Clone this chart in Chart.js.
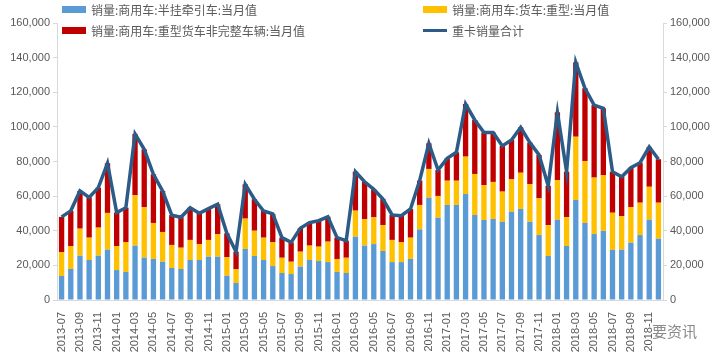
<!DOCTYPE html>
<html>
<head>
<meta charset="utf-8">
<script src="https://cdn.jsdelivr.net/npm/chart.js@4/dist/chart.umd.min.js"></script>
<style>
  html, body { margin: 0; padding: 0; background: #fff; }
  #wrap { position: relative; width: 718px; height: 358px; }
  canvas { position: absolute; left: 0; top: 0; }
  .lg { position: absolute; font: 12px "Noto Sans CJK SC", sans-serif; color: #595959; white-space: nowrap; line-height: 14px; }
  .lg i { display: inline-block; width: 24px; height: 7px; margin-right: 5px; vertical-align: 2px; }
  .lg i.ln { height: 3px; vertical-align: 4px; }
  #wm { position: absolute; left: 652px; top: 320px; font: 15px "Noto Sans CJK SC", sans-serif; color: #8a8a8a; }
</style>
</head>
<body>
<div id="wrap">
  <canvas id="c" width="718" height="358"></canvas>
  <div class="lg" style="left:62px;top:3px"><i style="background:#5b9bd5"></i>销量:商用车:半挂牵引车:当月值</div>
  <div class="lg" style="left:423px;top:3px"><i style="background:#ffc000"></i>销量:商用车:货车:重型:当月值</div>
  <div class="lg" style="left:62px;top:24px"><i style="background:#c00000"></i>销量:商用车:重型货车非完整车辆:当月值</div>
  <div class="lg" style="left:423px;top:24px"><i class="ln" style="background:#2b5b86"></i>重卡销量合计</div>
  <div id="wm">要资讯</div>
</div>
<script>
var months = [
  "2013-07","2013-08","2013-09","2013-10","2013-11","2013-12",
  "2014-01","2014-02","2014-03","2014-04","2014-05","2014-06","2014-07","2014-08","2014-09","2014-10","2014-11","2014-12",
  "2015-01","2015-02","2015-03","2015-04","2015-05","2015-06","2015-07","2015-08","2015-09","2015-10","2015-11","2015-12",
  "2016-01","2016-02","2016-03","2016-04","2016-05","2016-06","2016-07","2016-08","2016-09","2016-10","2016-11","2016-12",
  "2017-01","2017-02","2017-03","2017-04","2017-05","2017-06","2017-07","2017-08","2017-09","2017-10","2017-11","2017-12",
  "2018-01","2018-02","2018-03","2018-04","2018-05","2018-06","2018-07","2018-08","2018-09","2018-10","2018-11","2018-12"
];

// 半挂牵引车
var tractor = [
  13900,17900,25600,23100,25600,29100,
  17300,16200,31400,24500,23700,22100,18500,17900,23100,23100,25000,25000,
  14000,9800,29500,25400,23100,19600,15600,15000,19300,23100,22500,21900,
  16200,15600,36600,31400,32300,28300,21900,21900,23700,40800,59100,47500,
  54900,54900,61200,49100,46200,46800,45200,51000,52600,45200,37500,25400,
  46400,31200,57800,44500,38100,39900,28900,29100,33100,37500,46400,35400
];

// 货车:重型
var heavyTruck = [
  13800,13300,15600,12900,16200,21200,
  13900,17300,29100,29200,20800,17200,13300,12300,11600,9200,9700,13100,
  10800,7900,17500,14600,12900,13900,8800,7100,8600,8300,8300,11800,
  7500,8800,15000,15400,15500,15000,12800,11600,12300,14100,16600,12600,
  14000,14000,21600,23700,20200,21400,17400,18700,20900,21800,21200,17900,
  22900,16700,36500,35800,32600,32300,21500,19400,20600,18700,19000,20800
];

// 重型货车非完整车辆
var incomplete = [
  20300,20300,21800,23300,23100,28700,
  19300,19800,35400,33300,28100,23700,17200,17600,18600,17800,18100,17200,
  13700,10200,19800,18200,15400,16200,11600,11200,13500,13300,15000,14400,
  12300,9900,22500,21500,16100,15000,14400,15200,16600,14100,14800,15000,
  12900,16400,30400,31200,30300,28500,26400,22700,26200,23900,25100,22700,
  39100,26200,43000,42000,41900,38500,23700,22700,22700,23100,23000,25100
];

// 重卡销量合计
var total = [
  48000,51500,63000,59300,64900,79000,
  50500,53300,95900,87000,72600,63000,49000,47800,53300,50100,52800,55300,
  38500,27900,66800,58200,51400,49700,36000,33300,41400,44700,45800,48100,
  36000,34300,74100,68300,63900,58300,49100,48700,52600,69000,90500,75100,
  81800,85300,113200,104000,96700,96700,89000,92400,99700,90900,83800,66000,
  108400,74100,137300,122300,112600,110700,74100,71200,76400,79300,88400,81300
];

var axisTicks = [0, 20000, 40000, 60000, 80000, 100000, 120000, 140000, 160000];

var tickFont = { family: "Liberation Sans, Arial, sans-serif", size: 11 };
var tickColor = "#595959";
var axisColor = "#d9d9d9";

function fmt(v) { return v.toLocaleString("en-US"); }

var yCommon = {
  min: axisTicks[0],
  max: axisTicks[axisTicks.length - 1],
  afterBuildTicks: function(s) { s.ticks = axisTicks.map(function(v){ return { value: v }; }); },
  grid: { display: true, drawOnChartArea: false, drawTicks: true, tickLength: 4, color: axisColor },
  border: { display: true, color: axisColor },
  ticks: { font: tickFont, color: tickColor, padding: 3, callback: function(v){ return fmt(v); } }
};

new Chart(document.getElementById("c").getContext("2d"), {
  type: "bar",
  data: {
    labels: months,
    datasets: [
      { type: "line", label: "重卡销量合计", data: total, yAxisID: "y1", order: 0,
        borderColor: "#2b5b86", borderWidth: 3.5, pointRadius: 0, tension: 0, fill: false },
      { label: "销量:商用车:半挂牵引车:当月值", data: tractor, backgroundColor: "#5b9bd5", order: 1, stack: "s" },
      { label: "销量:商用车:货车:重型:当月值", data: heavyTruck, backgroundColor: "#ffc000", order: 1, stack: "s" },
      { label: "销量:商用车:重型货车非完整车辆:当月值", data: incomplete, backgroundColor: "#c00000", order: 1, stack: "s" }
    ]
  },
  options: {
    responsive: false,
    animation: false,
    layout: { padding: { top: 23, left: 0, right: 0, bottom: 0 } },
    plugins: { legend: { display: false }, tooltip: { enabled: false } },
    datasets: { bar: { categoryPercentage: 1, barPercentage: 0.58 } },
    scales: {
      x: {
        stacked: true,
        afterFit: function(s) { s.height = 58; },
        grid: { display: false },
        border: { display: true, color: axisColor },
        ticks: {
          autoSkip: false, minRotation: 90, maxRotation: 90, padding: 4,
          font: tickFont, color: tickColor,
          callback: function(v, i) { return i % 2 === 0 ? months[i] : ""; }
        }
      },
      y: Object.assign({}, yCommon, { position: "left", stacked: true,
        afterFit: function(s) { s.width = 57; } }),
      y1: Object.assign({}, yCommon, { position: "right", stacked: false,
        afterFit: function(s) { s.width = 55; } })
    }
  }
});
</script>
</body>
</html>
